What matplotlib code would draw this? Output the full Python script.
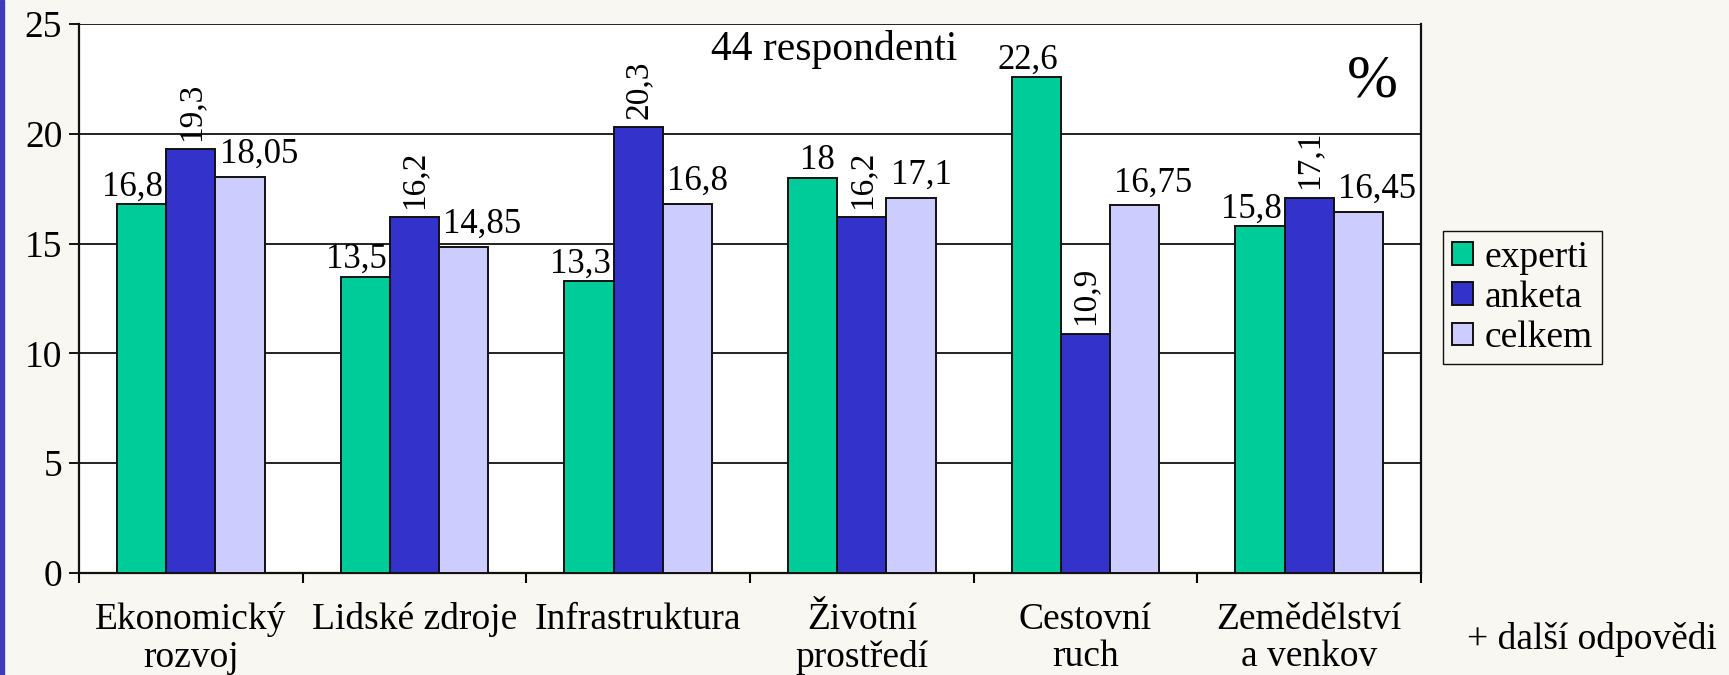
import numpy as np
import matplotlib
matplotlib.use("Agg")
import matplotlib.pyplot as plt
from matplotlib.patches import Rectangle

# data
categories = ["Ekonomický\nrozvoj", "Lidské zdroje", "Infrastruktura",
              "Životní\nprostředí", "Cestovní\nruch", "Zemědělství\na venkov"]
experti = [16.8, 13.5, 13.3, 18.0, 22.6, 15.8]
anketa = [19.3, 16.2, 20.3, 16.2, 10.9, 17.1]
celkem = [18.05, 14.85, 16.8, 17.1, 16.75, 16.45]
experti_txt = ["16,8", "13,5", "13,3", "18", "22,6", "15,8"]
anketa_txt = ["19,3", "16,2", "20,3", "16,2", "10,9", "17,1"]
celkem_txt = ["18,05", "14,85", "16,8", "17,1", "16,75", "16,45"]

plt.rcParams['font.family'] = ['Liberation Serif', 'DejaVu Serif']

fig = plt.figure(figsize=(17.29, 6.75), dpi=100, facecolor='#f8f7f1')
ax = fig.add_axes([0.0457, 0.1511, 0.7762, 0.8133])
ax.set_facecolor('white')

# thin blue strip on the left border of the slide
fig.patches.append(Rectangle((0, 0), 0.0025, 1, transform=fig.transFigure,
                             color='#3d3dbb', zorder=0))

x = np.arange(len(categories))
w = 0.22
b1 = ax.bar(x - w, experti, w, color='#00cc99', edgecolor='#111111', lw=1.4, zorder=3, label='experti')
b2 = ax.bar(x, anketa, w, color='#3333cc', edgecolor='#111111', lw=1.4, zorder=3, label='anketa')
b3 = ax.bar(x + w, celkem, w, color='#ccccff', edgecolor='#111111', lw=1.4, zorder=3, label='celkem')

# value labels
for xi, v, t in zip(x, experti, experti_txt):
    ax.annotate(t, (xi - w / 2, v), xytext=(-2, 6), textcoords='offset points',
                ha='right', va='baseline', fontsize=25)
for xi, v, t in zip(x, anketa, anketa_txt):
    ax.annotate(t, (xi, v), xytext=(0, 6), textcoords='offset points',
                ha='center', va='bottom', rotation=90, fontsize=24)
for xi, v, t in zip(x, celkem, celkem_txt):
    ax.annotate(t, (xi + w / 2, v), xytext=(3, 10), textcoords='offset points',
                ha='left', va='baseline', fontsize=25)

ax.set_xlim(-0.5, len(categories) - 0.5)
ax.set_ylim(0, 25)
ax.set_yticks([0, 5, 10, 15, 20, 25])
ax.yaxis.grid(True, color='#111111', lw=1.3, zorder=1)
ax.set_axisbelow(True)

# ticks at group boundaries, labels at group centres
ax.set_xticks(np.arange(-0.5, len(categories), 1.0))
ax.set_xticklabels([])
ax.set_xticks(x, minor=True)
ax.set_xticklabels(categories, minor=True, fontsize=27, linespacing=1.12)
ax.tick_params(axis='x', which='major', length=7, width=1.5, direction='out')
ax.tick_params(axis='x', which='minor', length=0, pad=21)
ax.tick_params(axis='y', length=7, width=1.3, labelsize=27, pad=5)

for s in ['left', 'bottom', 'right']:
    ax.spines[s].set_linewidth(1.6)
    ax.spines[s].set_color('#111111')
ax.spines['top'].set_visible(False)

ax.text(0.5626, 0.953, "44 respondenti", transform=ax.transAxes,
        ha='center', va='center', fontsize=30)
ax.text(0.964, 0.895, "%", transform=ax.transAxes,
        ha='center', va='center', fontsize=44)

fig.legend(handles=[b1, b2, b3], loc='upper left', bbox_to_anchor=(0.8346, 0.6578),
           borderaxespad=0, frameon=True, fancybox=False, edgecolor='#111111',
           facecolor='#f8f7f1', framealpha=1, fontsize=27,
           handlelength=0.55, handleheight=0.55, handletextpad=0.3,
           labelspacing=0.15, borderpad=0.25)

fig.text(0.921, 0.052, "+ další odpovědi", ha='center', va='center', fontsize=27)

fig.savefig("out.png", dpi=100, facecolor=fig.get_facecolor())
